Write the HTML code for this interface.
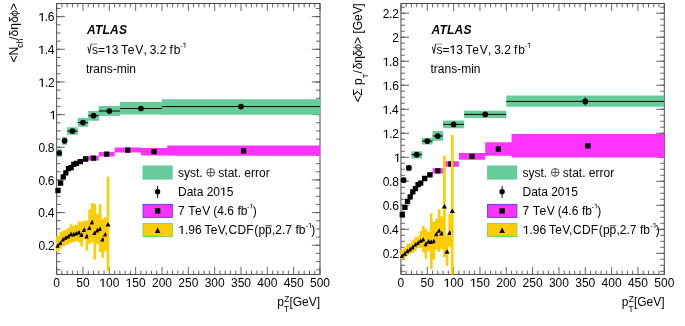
<!DOCTYPE html>
<html><head><meta charset="utf-8"><style>
html,body{margin:0;padding:0;background:#fff;width:685px;height:326px;overflow:hidden}
svg{display:block;will-change:transform}
text{font-family:"Liberation Sans", sans-serif;font-size:12px;fill:#000}
</style></head><body>
<svg width="685" height="326" viewBox="0 0 685 326">
<rect width="685" height="326" fill="#fff"/>
<line x1="56.65" y1="274.45" x2="56.65" y2="266.95" stroke="#555" stroke-width="0.9"/>
<line x1="56.65" y1="3.5" x2="56.65" y2="11" stroke="#555" stroke-width="0.9"/>
<line x1="61.92" y1="274.45" x2="61.92" y2="270.65" stroke="#555" stroke-width="0.9"/>
<line x1="61.92" y1="3.5" x2="61.92" y2="7.3" stroke="#555" stroke-width="0.9"/>
<line x1="67.18" y1="274.45" x2="67.18" y2="270.65" stroke="#555" stroke-width="0.9"/>
<line x1="67.18" y1="3.5" x2="67.18" y2="7.3" stroke="#555" stroke-width="0.9"/>
<line x1="72.45" y1="274.45" x2="72.45" y2="270.65" stroke="#555" stroke-width="0.9"/>
<line x1="72.45" y1="3.5" x2="72.45" y2="7.3" stroke="#555" stroke-width="0.9"/>
<line x1="77.72" y1="274.45" x2="77.72" y2="270.65" stroke="#555" stroke-width="0.9"/>
<line x1="77.72" y1="3.5" x2="77.72" y2="7.3" stroke="#555" stroke-width="0.9"/>
<line x1="82.98" y1="274.45" x2="82.98" y2="266.95" stroke="#555" stroke-width="0.9"/>
<line x1="82.98" y1="3.5" x2="82.98" y2="11" stroke="#555" stroke-width="0.9"/>
<line x1="88.25" y1="274.45" x2="88.25" y2="270.65" stroke="#555" stroke-width="0.9"/>
<line x1="88.25" y1="3.5" x2="88.25" y2="7.3" stroke="#555" stroke-width="0.9"/>
<line x1="93.52" y1="274.45" x2="93.52" y2="270.65" stroke="#555" stroke-width="0.9"/>
<line x1="93.52" y1="3.5" x2="93.52" y2="7.3" stroke="#555" stroke-width="0.9"/>
<line x1="98.79" y1="274.45" x2="98.79" y2="270.65" stroke="#555" stroke-width="0.9"/>
<line x1="98.79" y1="3.5" x2="98.79" y2="7.3" stroke="#555" stroke-width="0.9"/>
<line x1="104.05" y1="274.45" x2="104.05" y2="270.65" stroke="#555" stroke-width="0.9"/>
<line x1="104.05" y1="3.5" x2="104.05" y2="7.3" stroke="#555" stroke-width="0.9"/>
<line x1="109.32" y1="274.45" x2="109.32" y2="266.95" stroke="#555" stroke-width="0.9"/>
<line x1="109.32" y1="3.5" x2="109.32" y2="11" stroke="#555" stroke-width="0.9"/>
<line x1="114.59" y1="274.45" x2="114.59" y2="270.65" stroke="#555" stroke-width="0.9"/>
<line x1="114.59" y1="3.5" x2="114.59" y2="7.3" stroke="#555" stroke-width="0.9"/>
<line x1="119.85" y1="274.45" x2="119.85" y2="270.65" stroke="#555" stroke-width="0.9"/>
<line x1="119.85" y1="3.5" x2="119.85" y2="7.3" stroke="#555" stroke-width="0.9"/>
<line x1="125.12" y1="274.45" x2="125.12" y2="270.65" stroke="#555" stroke-width="0.9"/>
<line x1="125.12" y1="3.5" x2="125.12" y2="7.3" stroke="#555" stroke-width="0.9"/>
<line x1="130.39" y1="274.45" x2="130.39" y2="270.65" stroke="#555" stroke-width="0.9"/>
<line x1="130.39" y1="3.5" x2="130.39" y2="7.3" stroke="#555" stroke-width="0.9"/>
<line x1="135.66" y1="274.45" x2="135.66" y2="266.95" stroke="#555" stroke-width="0.9"/>
<line x1="135.66" y1="3.5" x2="135.66" y2="11" stroke="#555" stroke-width="0.9"/>
<line x1="140.92" y1="274.45" x2="140.92" y2="270.65" stroke="#555" stroke-width="0.9"/>
<line x1="140.92" y1="3.5" x2="140.92" y2="7.3" stroke="#555" stroke-width="0.9"/>
<line x1="146.19" y1="274.45" x2="146.19" y2="270.65" stroke="#555" stroke-width="0.9"/>
<line x1="146.19" y1="3.5" x2="146.19" y2="7.3" stroke="#555" stroke-width="0.9"/>
<line x1="151.46" y1="274.45" x2="151.46" y2="270.65" stroke="#555" stroke-width="0.9"/>
<line x1="151.46" y1="3.5" x2="151.46" y2="7.3" stroke="#555" stroke-width="0.9"/>
<line x1="156.72" y1="274.45" x2="156.72" y2="270.65" stroke="#555" stroke-width="0.9"/>
<line x1="156.72" y1="3.5" x2="156.72" y2="7.3" stroke="#555" stroke-width="0.9"/>
<line x1="161.99" y1="274.45" x2="161.99" y2="266.95" stroke="#555" stroke-width="0.9"/>
<line x1="161.99" y1="3.5" x2="161.99" y2="11" stroke="#555" stroke-width="0.9"/>
<line x1="167.26" y1="274.45" x2="167.26" y2="270.65" stroke="#555" stroke-width="0.9"/>
<line x1="167.26" y1="3.5" x2="167.26" y2="7.3" stroke="#555" stroke-width="0.9"/>
<line x1="172.52" y1="274.45" x2="172.52" y2="270.65" stroke="#555" stroke-width="0.9"/>
<line x1="172.52" y1="3.5" x2="172.52" y2="7.3" stroke="#555" stroke-width="0.9"/>
<line x1="177.79" y1="274.45" x2="177.79" y2="270.65" stroke="#555" stroke-width="0.9"/>
<line x1="177.79" y1="3.5" x2="177.79" y2="7.3" stroke="#555" stroke-width="0.9"/>
<line x1="183.06" y1="274.45" x2="183.06" y2="270.65" stroke="#555" stroke-width="0.9"/>
<line x1="183.06" y1="3.5" x2="183.06" y2="7.3" stroke="#555" stroke-width="0.9"/>
<line x1="188.32" y1="274.45" x2="188.32" y2="266.95" stroke="#555" stroke-width="0.9"/>
<line x1="188.32" y1="3.5" x2="188.32" y2="11" stroke="#555" stroke-width="0.9"/>
<line x1="193.59" y1="274.45" x2="193.59" y2="270.65" stroke="#555" stroke-width="0.9"/>
<line x1="193.59" y1="3.5" x2="193.59" y2="7.3" stroke="#555" stroke-width="0.9"/>
<line x1="198.86" y1="274.45" x2="198.86" y2="270.65" stroke="#555" stroke-width="0.9"/>
<line x1="198.86" y1="3.5" x2="198.86" y2="7.3" stroke="#555" stroke-width="0.9"/>
<line x1="204.13" y1="274.45" x2="204.13" y2="270.65" stroke="#555" stroke-width="0.9"/>
<line x1="204.13" y1="3.5" x2="204.13" y2="7.3" stroke="#555" stroke-width="0.9"/>
<line x1="209.39" y1="274.45" x2="209.39" y2="270.65" stroke="#555" stroke-width="0.9"/>
<line x1="209.39" y1="3.5" x2="209.39" y2="7.3" stroke="#555" stroke-width="0.9"/>
<line x1="214.66" y1="274.45" x2="214.66" y2="266.95" stroke="#555" stroke-width="0.9"/>
<line x1="214.66" y1="3.5" x2="214.66" y2="11" stroke="#555" stroke-width="0.9"/>
<line x1="219.93" y1="274.45" x2="219.93" y2="270.65" stroke="#555" stroke-width="0.9"/>
<line x1="219.93" y1="3.5" x2="219.93" y2="7.3" stroke="#555" stroke-width="0.9"/>
<line x1="225.19" y1="274.45" x2="225.19" y2="270.65" stroke="#555" stroke-width="0.9"/>
<line x1="225.19" y1="3.5" x2="225.19" y2="7.3" stroke="#555" stroke-width="0.9"/>
<line x1="230.46" y1="274.45" x2="230.46" y2="270.65" stroke="#555" stroke-width="0.9"/>
<line x1="230.46" y1="3.5" x2="230.46" y2="7.3" stroke="#555" stroke-width="0.9"/>
<line x1="235.73" y1="274.45" x2="235.73" y2="270.65" stroke="#555" stroke-width="0.9"/>
<line x1="235.73" y1="3.5" x2="235.73" y2="7.3" stroke="#555" stroke-width="0.9"/>
<line x1="240.99" y1="274.45" x2="240.99" y2="266.95" stroke="#555" stroke-width="0.9"/>
<line x1="240.99" y1="3.5" x2="240.99" y2="11" stroke="#555" stroke-width="0.9"/>
<line x1="246.26" y1="274.45" x2="246.26" y2="270.65" stroke="#555" stroke-width="0.9"/>
<line x1="246.26" y1="3.5" x2="246.26" y2="7.3" stroke="#555" stroke-width="0.9"/>
<line x1="251.53" y1="274.45" x2="251.53" y2="270.65" stroke="#555" stroke-width="0.9"/>
<line x1="251.53" y1="3.5" x2="251.53" y2="7.3" stroke="#555" stroke-width="0.9"/>
<line x1="256.8" y1="274.45" x2="256.8" y2="270.65" stroke="#555" stroke-width="0.9"/>
<line x1="256.8" y1="3.5" x2="256.8" y2="7.3" stroke="#555" stroke-width="0.9"/>
<line x1="262.06" y1="274.45" x2="262.06" y2="270.65" stroke="#555" stroke-width="0.9"/>
<line x1="262.06" y1="3.5" x2="262.06" y2="7.3" stroke="#555" stroke-width="0.9"/>
<line x1="267.33" y1="274.45" x2="267.33" y2="266.95" stroke="#555" stroke-width="0.9"/>
<line x1="267.33" y1="3.5" x2="267.33" y2="11" stroke="#555" stroke-width="0.9"/>
<line x1="272.6" y1="274.45" x2="272.6" y2="270.65" stroke="#555" stroke-width="0.9"/>
<line x1="272.6" y1="3.5" x2="272.6" y2="7.3" stroke="#555" stroke-width="0.9"/>
<line x1="277.86" y1="274.45" x2="277.86" y2="270.65" stroke="#555" stroke-width="0.9"/>
<line x1="277.86" y1="3.5" x2="277.86" y2="7.3" stroke="#555" stroke-width="0.9"/>
<line x1="283.13" y1="274.45" x2="283.13" y2="270.65" stroke="#555" stroke-width="0.9"/>
<line x1="283.13" y1="3.5" x2="283.13" y2="7.3" stroke="#555" stroke-width="0.9"/>
<line x1="288.4" y1="274.45" x2="288.4" y2="270.65" stroke="#555" stroke-width="0.9"/>
<line x1="288.4" y1="3.5" x2="288.4" y2="7.3" stroke="#555" stroke-width="0.9"/>
<line x1="293.66" y1="274.45" x2="293.66" y2="266.95" stroke="#555" stroke-width="0.9"/>
<line x1="293.66" y1="3.5" x2="293.66" y2="11" stroke="#555" stroke-width="0.9"/>
<line x1="298.93" y1="274.45" x2="298.93" y2="270.65" stroke="#555" stroke-width="0.9"/>
<line x1="298.93" y1="3.5" x2="298.93" y2="7.3" stroke="#555" stroke-width="0.9"/>
<line x1="304.2" y1="274.45" x2="304.2" y2="270.65" stroke="#555" stroke-width="0.9"/>
<line x1="304.2" y1="3.5" x2="304.2" y2="7.3" stroke="#555" stroke-width="0.9"/>
<line x1="309.47" y1="274.45" x2="309.47" y2="270.65" stroke="#555" stroke-width="0.9"/>
<line x1="309.47" y1="3.5" x2="309.47" y2="7.3" stroke="#555" stroke-width="0.9"/>
<line x1="314.73" y1="274.45" x2="314.73" y2="270.65" stroke="#555" stroke-width="0.9"/>
<line x1="314.73" y1="3.5" x2="314.73" y2="7.3" stroke="#555" stroke-width="0.9"/>
<line x1="320" y1="274.45" x2="320" y2="266.95" stroke="#555" stroke-width="0.9"/>
<line x1="320" y1="3.5" x2="320" y2="11" stroke="#555" stroke-width="0.9"/>
<line x1="56.65" y1="269.75" x2="60.65" y2="269.75" stroke="#555" stroke-width="0.9"/>
<line x1="320" y1="269.75" x2="316" y2="269.75" stroke="#555" stroke-width="0.9"/>
<line x1="56.65" y1="261.59" x2="60.65" y2="261.59" stroke="#555" stroke-width="0.9"/>
<line x1="320" y1="261.59" x2="316" y2="261.59" stroke="#555" stroke-width="0.9"/>
<line x1="56.65" y1="253.43" x2="60.65" y2="253.43" stroke="#555" stroke-width="0.9"/>
<line x1="320" y1="253.43" x2="316" y2="253.43" stroke="#555" stroke-width="0.9"/>
<line x1="56.65" y1="245.26" x2="60.65" y2="245.26" stroke="#555" stroke-width="0.9"/>
<line x1="320" y1="245.26" x2="316" y2="245.26" stroke="#555" stroke-width="0.9"/>
<line x1="56.65" y1="237.09" x2="60.65" y2="237.09" stroke="#555" stroke-width="0.9"/>
<line x1="320" y1="237.09" x2="316" y2="237.09" stroke="#555" stroke-width="0.9"/>
<line x1="56.65" y1="228.93" x2="60.65" y2="228.93" stroke="#555" stroke-width="0.9"/>
<line x1="320" y1="228.93" x2="316" y2="228.93" stroke="#555" stroke-width="0.9"/>
<line x1="56.65" y1="220.76" x2="60.65" y2="220.76" stroke="#555" stroke-width="0.9"/>
<line x1="320" y1="220.76" x2="316" y2="220.76" stroke="#555" stroke-width="0.9"/>
<line x1="56.65" y1="212.6" x2="60.65" y2="212.6" stroke="#555" stroke-width="0.9"/>
<line x1="320" y1="212.6" x2="316" y2="212.6" stroke="#555" stroke-width="0.9"/>
<line x1="56.65" y1="204.44" x2="60.65" y2="204.44" stroke="#555" stroke-width="0.9"/>
<line x1="320" y1="204.44" x2="316" y2="204.44" stroke="#555" stroke-width="0.9"/>
<line x1="56.65" y1="196.27" x2="60.65" y2="196.27" stroke="#555" stroke-width="0.9"/>
<line x1="320" y1="196.27" x2="316" y2="196.27" stroke="#555" stroke-width="0.9"/>
<line x1="56.65" y1="188.1" x2="60.65" y2="188.1" stroke="#555" stroke-width="0.9"/>
<line x1="320" y1="188.1" x2="316" y2="188.1" stroke="#555" stroke-width="0.9"/>
<line x1="56.65" y1="179.94" x2="60.65" y2="179.94" stroke="#555" stroke-width="0.9"/>
<line x1="320" y1="179.94" x2="316" y2="179.94" stroke="#555" stroke-width="0.9"/>
<line x1="56.65" y1="171.77" x2="60.65" y2="171.77" stroke="#555" stroke-width="0.9"/>
<line x1="320" y1="171.77" x2="316" y2="171.77" stroke="#555" stroke-width="0.9"/>
<line x1="56.65" y1="163.61" x2="60.65" y2="163.61" stroke="#555" stroke-width="0.9"/>
<line x1="320" y1="163.61" x2="316" y2="163.61" stroke="#555" stroke-width="0.9"/>
<line x1="56.65" y1="155.44" x2="60.65" y2="155.44" stroke="#555" stroke-width="0.9"/>
<line x1="320" y1="155.44" x2="316" y2="155.44" stroke="#555" stroke-width="0.9"/>
<line x1="56.65" y1="147.28" x2="60.65" y2="147.28" stroke="#555" stroke-width="0.9"/>
<line x1="320" y1="147.28" x2="316" y2="147.28" stroke="#555" stroke-width="0.9"/>
<line x1="56.65" y1="139.12" x2="60.65" y2="139.12" stroke="#555" stroke-width="0.9"/>
<line x1="320" y1="139.12" x2="316" y2="139.12" stroke="#555" stroke-width="0.9"/>
<line x1="56.65" y1="130.95" x2="60.65" y2="130.95" stroke="#555" stroke-width="0.9"/>
<line x1="320" y1="130.95" x2="316" y2="130.95" stroke="#555" stroke-width="0.9"/>
<line x1="56.65" y1="122.78" x2="60.65" y2="122.78" stroke="#555" stroke-width="0.9"/>
<line x1="320" y1="122.78" x2="316" y2="122.78" stroke="#555" stroke-width="0.9"/>
<line x1="56.65" y1="114.62" x2="60.65" y2="114.62" stroke="#555" stroke-width="0.9"/>
<line x1="320" y1="114.62" x2="316" y2="114.62" stroke="#555" stroke-width="0.9"/>
<line x1="56.65" y1="106.45" x2="60.65" y2="106.45" stroke="#555" stroke-width="0.9"/>
<line x1="320" y1="106.45" x2="316" y2="106.45" stroke="#555" stroke-width="0.9"/>
<line x1="56.65" y1="98.29" x2="60.65" y2="98.29" stroke="#555" stroke-width="0.9"/>
<line x1="320" y1="98.29" x2="316" y2="98.29" stroke="#555" stroke-width="0.9"/>
<line x1="56.65" y1="90.12" x2="60.65" y2="90.12" stroke="#555" stroke-width="0.9"/>
<line x1="320" y1="90.12" x2="316" y2="90.12" stroke="#555" stroke-width="0.9"/>
<line x1="56.65" y1="81.96" x2="60.65" y2="81.96" stroke="#555" stroke-width="0.9"/>
<line x1="320" y1="81.96" x2="316" y2="81.96" stroke="#555" stroke-width="0.9"/>
<line x1="56.65" y1="73.79" x2="60.65" y2="73.79" stroke="#555" stroke-width="0.9"/>
<line x1="320" y1="73.79" x2="316" y2="73.79" stroke="#555" stroke-width="0.9"/>
<line x1="56.65" y1="65.63" x2="60.65" y2="65.63" stroke="#555" stroke-width="0.9"/>
<line x1="320" y1="65.63" x2="316" y2="65.63" stroke="#555" stroke-width="0.9"/>
<line x1="56.65" y1="57.46" x2="60.65" y2="57.46" stroke="#555" stroke-width="0.9"/>
<line x1="320" y1="57.46" x2="316" y2="57.46" stroke="#555" stroke-width="0.9"/>
<line x1="56.65" y1="49.3" x2="60.65" y2="49.3" stroke="#555" stroke-width="0.9"/>
<line x1="320" y1="49.3" x2="316" y2="49.3" stroke="#555" stroke-width="0.9"/>
<line x1="56.65" y1="41.13" x2="60.65" y2="41.13" stroke="#555" stroke-width="0.9"/>
<line x1="320" y1="41.13" x2="316" y2="41.13" stroke="#555" stroke-width="0.9"/>
<line x1="56.65" y1="32.97" x2="60.65" y2="32.97" stroke="#555" stroke-width="0.9"/>
<line x1="320" y1="32.97" x2="316" y2="32.97" stroke="#555" stroke-width="0.9"/>
<line x1="56.65" y1="24.8" x2="60.65" y2="24.8" stroke="#555" stroke-width="0.9"/>
<line x1="320" y1="24.8" x2="316" y2="24.8" stroke="#555" stroke-width="0.9"/>
<line x1="56.65" y1="16.64" x2="60.65" y2="16.64" stroke="#555" stroke-width="0.9"/>
<line x1="320" y1="16.64" x2="316" y2="16.64" stroke="#555" stroke-width="0.9"/>
<line x1="56.65" y1="8.47" x2="60.65" y2="8.47" stroke="#555" stroke-width="0.9"/>
<line x1="320" y1="8.47" x2="316" y2="8.47" stroke="#555" stroke-width="0.9"/>
<line x1="56.65" y1="245.26" x2="64.85" y2="245.26" stroke="#555" stroke-width="0.9"/>
<line x1="320" y1="245.26" x2="311.8" y2="245.26" stroke="#555" stroke-width="0.9"/>
<line x1="56.65" y1="212.6" x2="64.85" y2="212.6" stroke="#555" stroke-width="0.9"/>
<line x1="320" y1="212.6" x2="311.8" y2="212.6" stroke="#555" stroke-width="0.9"/>
<line x1="56.65" y1="179.94" x2="64.85" y2="179.94" stroke="#555" stroke-width="0.9"/>
<line x1="320" y1="179.94" x2="311.8" y2="179.94" stroke="#555" stroke-width="0.9"/>
<line x1="56.65" y1="147.28" x2="64.85" y2="147.28" stroke="#555" stroke-width="0.9"/>
<line x1="320" y1="147.28" x2="311.8" y2="147.28" stroke="#555" stroke-width="0.9"/>
<line x1="56.65" y1="114.62" x2="64.85" y2="114.62" stroke="#555" stroke-width="0.9"/>
<line x1="320" y1="114.62" x2="311.8" y2="114.62" stroke="#555" stroke-width="0.9"/>
<line x1="56.65" y1="81.96" x2="64.85" y2="81.96" stroke="#555" stroke-width="0.9"/>
<line x1="320" y1="81.96" x2="311.8" y2="81.96" stroke="#555" stroke-width="0.9"/>
<line x1="56.65" y1="49.3" x2="64.85" y2="49.3" stroke="#555" stroke-width="0.9"/>
<line x1="320" y1="49.3" x2="311.8" y2="49.3" stroke="#555" stroke-width="0.9"/>
<line x1="56.65" y1="16.64" x2="64.85" y2="16.64" stroke="#555" stroke-width="0.9"/>
<line x1="320" y1="16.64" x2="311.8" y2="16.64" stroke="#555" stroke-width="0.9"/>
<rect x="56.65" y="3.5" width="263.35" height="270.95" fill="none" stroke="#4a4a4a" stroke-width="1"/>
<text x="38.52" y="249.96" letter-spacing="-0.3">0.2</text>
<text x="38.27" y="217.3" letter-spacing="-0.3">0.4</text>
<text x="38.45" y="184.64" letter-spacing="-0.3">0.6</text>
<text x="38.44" y="151.98" letter-spacing="-0.3">0.8</text>
<text x="49.66" y="119.32">&#8199;</text>
<text x="38.52" y="86.66" letter-spacing="-0.3">&#8199;.2</text>
<text x="38.27" y="54" letter-spacing="-0.3">&#8199;.4</text>
<text x="38.45" y="21.34" letter-spacing="-0.3">&#8199;.6</text>
<text x="56.65" y="286.9" text-anchor="middle">0</text>
<text x="82.98" y="286.9" text-anchor="middle">50</text>
<text x="109.32" y="286.9" text-anchor="middle">&#8199;00</text>
<text x="135.66" y="286.9" text-anchor="middle">&#8199;50</text>
<text x="161.99" y="286.9" text-anchor="middle">200</text>
<text x="188.32" y="286.9" text-anchor="middle">250</text>
<text x="214.66" y="286.9" text-anchor="middle">300</text>
<text x="240.99" y="286.9" text-anchor="middle">350</text>
<text x="267.33" y="286.9" text-anchor="middle">400</text>
<text x="293.66" y="286.9" text-anchor="middle">450</text>
<text x="320" y="286.9" text-anchor="middle">500</text>
<line x1="400.95" y1="274.45" x2="400.95" y2="266.95" stroke="#555" stroke-width="0.9"/>
<line x1="400.95" y1="3.5" x2="400.95" y2="11" stroke="#555" stroke-width="0.9"/>
<line x1="406.22" y1="274.45" x2="406.22" y2="270.65" stroke="#555" stroke-width="0.9"/>
<line x1="406.22" y1="3.5" x2="406.22" y2="7.3" stroke="#555" stroke-width="0.9"/>
<line x1="411.48" y1="274.45" x2="411.48" y2="270.65" stroke="#555" stroke-width="0.9"/>
<line x1="411.48" y1="3.5" x2="411.48" y2="7.3" stroke="#555" stroke-width="0.9"/>
<line x1="416.75" y1="274.45" x2="416.75" y2="270.65" stroke="#555" stroke-width="0.9"/>
<line x1="416.75" y1="3.5" x2="416.75" y2="7.3" stroke="#555" stroke-width="0.9"/>
<line x1="422.02" y1="274.45" x2="422.02" y2="270.65" stroke="#555" stroke-width="0.9"/>
<line x1="422.02" y1="3.5" x2="422.02" y2="7.3" stroke="#555" stroke-width="0.9"/>
<line x1="427.28" y1="274.45" x2="427.28" y2="266.95" stroke="#555" stroke-width="0.9"/>
<line x1="427.28" y1="3.5" x2="427.28" y2="11" stroke="#555" stroke-width="0.9"/>
<line x1="432.55" y1="274.45" x2="432.55" y2="270.65" stroke="#555" stroke-width="0.9"/>
<line x1="432.55" y1="3.5" x2="432.55" y2="7.3" stroke="#555" stroke-width="0.9"/>
<line x1="437.82" y1="274.45" x2="437.82" y2="270.65" stroke="#555" stroke-width="0.9"/>
<line x1="437.82" y1="3.5" x2="437.82" y2="7.3" stroke="#555" stroke-width="0.9"/>
<line x1="443.09" y1="274.45" x2="443.09" y2="270.65" stroke="#555" stroke-width="0.9"/>
<line x1="443.09" y1="3.5" x2="443.09" y2="7.3" stroke="#555" stroke-width="0.9"/>
<line x1="448.35" y1="274.45" x2="448.35" y2="270.65" stroke="#555" stroke-width="0.9"/>
<line x1="448.35" y1="3.5" x2="448.35" y2="7.3" stroke="#555" stroke-width="0.9"/>
<line x1="453.62" y1="274.45" x2="453.62" y2="266.95" stroke="#555" stroke-width="0.9"/>
<line x1="453.62" y1="3.5" x2="453.62" y2="11" stroke="#555" stroke-width="0.9"/>
<line x1="458.89" y1="274.45" x2="458.89" y2="270.65" stroke="#555" stroke-width="0.9"/>
<line x1="458.89" y1="3.5" x2="458.89" y2="7.3" stroke="#555" stroke-width="0.9"/>
<line x1="464.15" y1="274.45" x2="464.15" y2="270.65" stroke="#555" stroke-width="0.9"/>
<line x1="464.15" y1="3.5" x2="464.15" y2="7.3" stroke="#555" stroke-width="0.9"/>
<line x1="469.42" y1="274.45" x2="469.42" y2="270.65" stroke="#555" stroke-width="0.9"/>
<line x1="469.42" y1="3.5" x2="469.42" y2="7.3" stroke="#555" stroke-width="0.9"/>
<line x1="474.69" y1="274.45" x2="474.69" y2="270.65" stroke="#555" stroke-width="0.9"/>
<line x1="474.69" y1="3.5" x2="474.69" y2="7.3" stroke="#555" stroke-width="0.9"/>
<line x1="479.95" y1="274.45" x2="479.95" y2="266.95" stroke="#555" stroke-width="0.9"/>
<line x1="479.95" y1="3.5" x2="479.95" y2="11" stroke="#555" stroke-width="0.9"/>
<line x1="485.22" y1="274.45" x2="485.22" y2="270.65" stroke="#555" stroke-width="0.9"/>
<line x1="485.22" y1="3.5" x2="485.22" y2="7.3" stroke="#555" stroke-width="0.9"/>
<line x1="490.49" y1="274.45" x2="490.49" y2="270.65" stroke="#555" stroke-width="0.9"/>
<line x1="490.49" y1="3.5" x2="490.49" y2="7.3" stroke="#555" stroke-width="0.9"/>
<line x1="495.76" y1="274.45" x2="495.76" y2="270.65" stroke="#555" stroke-width="0.9"/>
<line x1="495.76" y1="3.5" x2="495.76" y2="7.3" stroke="#555" stroke-width="0.9"/>
<line x1="501.02" y1="274.45" x2="501.02" y2="270.65" stroke="#555" stroke-width="0.9"/>
<line x1="501.02" y1="3.5" x2="501.02" y2="7.3" stroke="#555" stroke-width="0.9"/>
<line x1="506.29" y1="274.45" x2="506.29" y2="266.95" stroke="#555" stroke-width="0.9"/>
<line x1="506.29" y1="3.5" x2="506.29" y2="11" stroke="#555" stroke-width="0.9"/>
<line x1="511.56" y1="274.45" x2="511.56" y2="270.65" stroke="#555" stroke-width="0.9"/>
<line x1="511.56" y1="3.5" x2="511.56" y2="7.3" stroke="#555" stroke-width="0.9"/>
<line x1="516.82" y1="274.45" x2="516.82" y2="270.65" stroke="#555" stroke-width="0.9"/>
<line x1="516.82" y1="3.5" x2="516.82" y2="7.3" stroke="#555" stroke-width="0.9"/>
<line x1="522.09" y1="274.45" x2="522.09" y2="270.65" stroke="#555" stroke-width="0.9"/>
<line x1="522.09" y1="3.5" x2="522.09" y2="7.3" stroke="#555" stroke-width="0.9"/>
<line x1="527.36" y1="274.45" x2="527.36" y2="270.65" stroke="#555" stroke-width="0.9"/>
<line x1="527.36" y1="3.5" x2="527.36" y2="7.3" stroke="#555" stroke-width="0.9"/>
<line x1="532.62" y1="274.45" x2="532.62" y2="266.95" stroke="#555" stroke-width="0.9"/>
<line x1="532.62" y1="3.5" x2="532.62" y2="11" stroke="#555" stroke-width="0.9"/>
<line x1="537.89" y1="274.45" x2="537.89" y2="270.65" stroke="#555" stroke-width="0.9"/>
<line x1="537.89" y1="3.5" x2="537.89" y2="7.3" stroke="#555" stroke-width="0.9"/>
<line x1="543.16" y1="274.45" x2="543.16" y2="270.65" stroke="#555" stroke-width="0.9"/>
<line x1="543.16" y1="3.5" x2="543.16" y2="7.3" stroke="#555" stroke-width="0.9"/>
<line x1="548.43" y1="274.45" x2="548.43" y2="270.65" stroke="#555" stroke-width="0.9"/>
<line x1="548.43" y1="3.5" x2="548.43" y2="7.3" stroke="#555" stroke-width="0.9"/>
<line x1="553.69" y1="274.45" x2="553.69" y2="270.65" stroke="#555" stroke-width="0.9"/>
<line x1="553.69" y1="3.5" x2="553.69" y2="7.3" stroke="#555" stroke-width="0.9"/>
<line x1="558.96" y1="274.45" x2="558.96" y2="266.95" stroke="#555" stroke-width="0.9"/>
<line x1="558.96" y1="3.5" x2="558.96" y2="11" stroke="#555" stroke-width="0.9"/>
<line x1="564.23" y1="274.45" x2="564.23" y2="270.65" stroke="#555" stroke-width="0.9"/>
<line x1="564.23" y1="3.5" x2="564.23" y2="7.3" stroke="#555" stroke-width="0.9"/>
<line x1="569.49" y1="274.45" x2="569.49" y2="270.65" stroke="#555" stroke-width="0.9"/>
<line x1="569.49" y1="3.5" x2="569.49" y2="7.3" stroke="#555" stroke-width="0.9"/>
<line x1="574.76" y1="274.45" x2="574.76" y2="270.65" stroke="#555" stroke-width="0.9"/>
<line x1="574.76" y1="3.5" x2="574.76" y2="7.3" stroke="#555" stroke-width="0.9"/>
<line x1="580.03" y1="274.45" x2="580.03" y2="270.65" stroke="#555" stroke-width="0.9"/>
<line x1="580.03" y1="3.5" x2="580.03" y2="7.3" stroke="#555" stroke-width="0.9"/>
<line x1="585.29" y1="274.45" x2="585.29" y2="266.95" stroke="#555" stroke-width="0.9"/>
<line x1="585.29" y1="3.5" x2="585.29" y2="11" stroke="#555" stroke-width="0.9"/>
<line x1="590.56" y1="274.45" x2="590.56" y2="270.65" stroke="#555" stroke-width="0.9"/>
<line x1="590.56" y1="3.5" x2="590.56" y2="7.3" stroke="#555" stroke-width="0.9"/>
<line x1="595.83" y1="274.45" x2="595.83" y2="270.65" stroke="#555" stroke-width="0.9"/>
<line x1="595.83" y1="3.5" x2="595.83" y2="7.3" stroke="#555" stroke-width="0.9"/>
<line x1="601.1" y1="274.45" x2="601.1" y2="270.65" stroke="#555" stroke-width="0.9"/>
<line x1="601.1" y1="3.5" x2="601.1" y2="7.3" stroke="#555" stroke-width="0.9"/>
<line x1="606.36" y1="274.45" x2="606.36" y2="270.65" stroke="#555" stroke-width="0.9"/>
<line x1="606.36" y1="3.5" x2="606.36" y2="7.3" stroke="#555" stroke-width="0.9"/>
<line x1="611.63" y1="274.45" x2="611.63" y2="266.95" stroke="#555" stroke-width="0.9"/>
<line x1="611.63" y1="3.5" x2="611.63" y2="11" stroke="#555" stroke-width="0.9"/>
<line x1="616.9" y1="274.45" x2="616.9" y2="270.65" stroke="#555" stroke-width="0.9"/>
<line x1="616.9" y1="3.5" x2="616.9" y2="7.3" stroke="#555" stroke-width="0.9"/>
<line x1="622.16" y1="274.45" x2="622.16" y2="270.65" stroke="#555" stroke-width="0.9"/>
<line x1="622.16" y1="3.5" x2="622.16" y2="7.3" stroke="#555" stroke-width="0.9"/>
<line x1="627.43" y1="274.45" x2="627.43" y2="270.65" stroke="#555" stroke-width="0.9"/>
<line x1="627.43" y1="3.5" x2="627.43" y2="7.3" stroke="#555" stroke-width="0.9"/>
<line x1="632.7" y1="274.45" x2="632.7" y2="270.65" stroke="#555" stroke-width="0.9"/>
<line x1="632.7" y1="3.5" x2="632.7" y2="7.3" stroke="#555" stroke-width="0.9"/>
<line x1="637.96" y1="274.45" x2="637.96" y2="266.95" stroke="#555" stroke-width="0.9"/>
<line x1="637.96" y1="3.5" x2="637.96" y2="11" stroke="#555" stroke-width="0.9"/>
<line x1="643.23" y1="274.45" x2="643.23" y2="270.65" stroke="#555" stroke-width="0.9"/>
<line x1="643.23" y1="3.5" x2="643.23" y2="7.3" stroke="#555" stroke-width="0.9"/>
<line x1="648.5" y1="274.45" x2="648.5" y2="270.65" stroke="#555" stroke-width="0.9"/>
<line x1="648.5" y1="3.5" x2="648.5" y2="7.3" stroke="#555" stroke-width="0.9"/>
<line x1="653.77" y1="274.45" x2="653.77" y2="270.65" stroke="#555" stroke-width="0.9"/>
<line x1="653.77" y1="3.5" x2="653.77" y2="7.3" stroke="#555" stroke-width="0.9"/>
<line x1="659.03" y1="274.45" x2="659.03" y2="270.65" stroke="#555" stroke-width="0.9"/>
<line x1="659.03" y1="3.5" x2="659.03" y2="7.3" stroke="#555" stroke-width="0.9"/>
<line x1="664.3" y1="274.45" x2="664.3" y2="266.95" stroke="#555" stroke-width="0.9"/>
<line x1="664.3" y1="3.5" x2="664.3" y2="11" stroke="#555" stroke-width="0.9"/>
<line x1="400.95" y1="271.31" x2="404.95" y2="271.31" stroke="#555" stroke-width="0.9"/>
<line x1="664.3" y1="271.31" x2="660.3" y2="271.31" stroke="#555" stroke-width="0.9"/>
<line x1="400.95" y1="265.31" x2="404.95" y2="265.31" stroke="#555" stroke-width="0.9"/>
<line x1="664.3" y1="265.31" x2="660.3" y2="265.31" stroke="#555" stroke-width="0.9"/>
<line x1="400.95" y1="259.3" x2="404.95" y2="259.3" stroke="#555" stroke-width="0.9"/>
<line x1="664.3" y1="259.3" x2="660.3" y2="259.3" stroke="#555" stroke-width="0.9"/>
<line x1="400.95" y1="253.3" x2="404.95" y2="253.3" stroke="#555" stroke-width="0.9"/>
<line x1="664.3" y1="253.3" x2="660.3" y2="253.3" stroke="#555" stroke-width="0.9"/>
<line x1="400.95" y1="247.3" x2="404.95" y2="247.3" stroke="#555" stroke-width="0.9"/>
<line x1="664.3" y1="247.3" x2="660.3" y2="247.3" stroke="#555" stroke-width="0.9"/>
<line x1="400.95" y1="241.3" x2="404.95" y2="241.3" stroke="#555" stroke-width="0.9"/>
<line x1="664.3" y1="241.3" x2="660.3" y2="241.3" stroke="#555" stroke-width="0.9"/>
<line x1="400.95" y1="235.29" x2="404.95" y2="235.29" stroke="#555" stroke-width="0.9"/>
<line x1="664.3" y1="235.29" x2="660.3" y2="235.29" stroke="#555" stroke-width="0.9"/>
<line x1="400.95" y1="229.29" x2="404.95" y2="229.29" stroke="#555" stroke-width="0.9"/>
<line x1="664.3" y1="229.29" x2="660.3" y2="229.29" stroke="#555" stroke-width="0.9"/>
<line x1="400.95" y1="223.29" x2="404.95" y2="223.29" stroke="#555" stroke-width="0.9"/>
<line x1="664.3" y1="223.29" x2="660.3" y2="223.29" stroke="#555" stroke-width="0.9"/>
<line x1="400.95" y1="217.29" x2="404.95" y2="217.29" stroke="#555" stroke-width="0.9"/>
<line x1="664.3" y1="217.29" x2="660.3" y2="217.29" stroke="#555" stroke-width="0.9"/>
<line x1="400.95" y1="211.28" x2="404.95" y2="211.28" stroke="#555" stroke-width="0.9"/>
<line x1="664.3" y1="211.28" x2="660.3" y2="211.28" stroke="#555" stroke-width="0.9"/>
<line x1="400.95" y1="205.28" x2="404.95" y2="205.28" stroke="#555" stroke-width="0.9"/>
<line x1="664.3" y1="205.28" x2="660.3" y2="205.28" stroke="#555" stroke-width="0.9"/>
<line x1="400.95" y1="199.28" x2="404.95" y2="199.28" stroke="#555" stroke-width="0.9"/>
<line x1="664.3" y1="199.28" x2="660.3" y2="199.28" stroke="#555" stroke-width="0.9"/>
<line x1="400.95" y1="193.28" x2="404.95" y2="193.28" stroke="#555" stroke-width="0.9"/>
<line x1="664.3" y1="193.28" x2="660.3" y2="193.28" stroke="#555" stroke-width="0.9"/>
<line x1="400.95" y1="187.27" x2="404.95" y2="187.27" stroke="#555" stroke-width="0.9"/>
<line x1="664.3" y1="187.27" x2="660.3" y2="187.27" stroke="#555" stroke-width="0.9"/>
<line x1="400.95" y1="181.27" x2="404.95" y2="181.27" stroke="#555" stroke-width="0.9"/>
<line x1="664.3" y1="181.27" x2="660.3" y2="181.27" stroke="#555" stroke-width="0.9"/>
<line x1="400.95" y1="175.27" x2="404.95" y2="175.27" stroke="#555" stroke-width="0.9"/>
<line x1="664.3" y1="175.27" x2="660.3" y2="175.27" stroke="#555" stroke-width="0.9"/>
<line x1="400.95" y1="169.27" x2="404.95" y2="169.27" stroke="#555" stroke-width="0.9"/>
<line x1="664.3" y1="169.27" x2="660.3" y2="169.27" stroke="#555" stroke-width="0.9"/>
<line x1="400.95" y1="163.26" x2="404.95" y2="163.26" stroke="#555" stroke-width="0.9"/>
<line x1="664.3" y1="163.26" x2="660.3" y2="163.26" stroke="#555" stroke-width="0.9"/>
<line x1="400.95" y1="157.26" x2="404.95" y2="157.26" stroke="#555" stroke-width="0.9"/>
<line x1="664.3" y1="157.26" x2="660.3" y2="157.26" stroke="#555" stroke-width="0.9"/>
<line x1="400.95" y1="151.26" x2="404.95" y2="151.26" stroke="#555" stroke-width="0.9"/>
<line x1="664.3" y1="151.26" x2="660.3" y2="151.26" stroke="#555" stroke-width="0.9"/>
<line x1="400.95" y1="145.25" x2="404.95" y2="145.25" stroke="#555" stroke-width="0.9"/>
<line x1="664.3" y1="145.25" x2="660.3" y2="145.25" stroke="#555" stroke-width="0.9"/>
<line x1="400.95" y1="139.25" x2="404.95" y2="139.25" stroke="#555" stroke-width="0.9"/>
<line x1="664.3" y1="139.25" x2="660.3" y2="139.25" stroke="#555" stroke-width="0.9"/>
<line x1="400.95" y1="133.25" x2="404.95" y2="133.25" stroke="#555" stroke-width="0.9"/>
<line x1="664.3" y1="133.25" x2="660.3" y2="133.25" stroke="#555" stroke-width="0.9"/>
<line x1="400.95" y1="127.25" x2="404.95" y2="127.25" stroke="#555" stroke-width="0.9"/>
<line x1="664.3" y1="127.25" x2="660.3" y2="127.25" stroke="#555" stroke-width="0.9"/>
<line x1="400.95" y1="121.25" x2="404.95" y2="121.25" stroke="#555" stroke-width="0.9"/>
<line x1="664.3" y1="121.25" x2="660.3" y2="121.25" stroke="#555" stroke-width="0.9"/>
<line x1="400.95" y1="115.24" x2="404.95" y2="115.24" stroke="#555" stroke-width="0.9"/>
<line x1="664.3" y1="115.24" x2="660.3" y2="115.24" stroke="#555" stroke-width="0.9"/>
<line x1="400.95" y1="109.24" x2="404.95" y2="109.24" stroke="#555" stroke-width="0.9"/>
<line x1="664.3" y1="109.24" x2="660.3" y2="109.24" stroke="#555" stroke-width="0.9"/>
<line x1="400.95" y1="103.24" x2="404.95" y2="103.24" stroke="#555" stroke-width="0.9"/>
<line x1="664.3" y1="103.24" x2="660.3" y2="103.24" stroke="#555" stroke-width="0.9"/>
<line x1="400.95" y1="97.24" x2="404.95" y2="97.24" stroke="#555" stroke-width="0.9"/>
<line x1="664.3" y1="97.24" x2="660.3" y2="97.24" stroke="#555" stroke-width="0.9"/>
<line x1="400.95" y1="91.23" x2="404.95" y2="91.23" stroke="#555" stroke-width="0.9"/>
<line x1="664.3" y1="91.23" x2="660.3" y2="91.23" stroke="#555" stroke-width="0.9"/>
<line x1="400.95" y1="85.23" x2="404.95" y2="85.23" stroke="#555" stroke-width="0.9"/>
<line x1="664.3" y1="85.23" x2="660.3" y2="85.23" stroke="#555" stroke-width="0.9"/>
<line x1="400.95" y1="79.23" x2="404.95" y2="79.23" stroke="#555" stroke-width="0.9"/>
<line x1="664.3" y1="79.23" x2="660.3" y2="79.23" stroke="#555" stroke-width="0.9"/>
<line x1="400.95" y1="73.23" x2="404.95" y2="73.23" stroke="#555" stroke-width="0.9"/>
<line x1="664.3" y1="73.23" x2="660.3" y2="73.23" stroke="#555" stroke-width="0.9"/>
<line x1="400.95" y1="67.22" x2="404.95" y2="67.22" stroke="#555" stroke-width="0.9"/>
<line x1="664.3" y1="67.22" x2="660.3" y2="67.22" stroke="#555" stroke-width="0.9"/>
<line x1="400.95" y1="61.22" x2="404.95" y2="61.22" stroke="#555" stroke-width="0.9"/>
<line x1="664.3" y1="61.22" x2="660.3" y2="61.22" stroke="#555" stroke-width="0.9"/>
<line x1="400.95" y1="55.22" x2="404.95" y2="55.22" stroke="#555" stroke-width="0.9"/>
<line x1="664.3" y1="55.22" x2="660.3" y2="55.22" stroke="#555" stroke-width="0.9"/>
<line x1="400.95" y1="49.22" x2="404.95" y2="49.22" stroke="#555" stroke-width="0.9"/>
<line x1="664.3" y1="49.22" x2="660.3" y2="49.22" stroke="#555" stroke-width="0.9"/>
<line x1="400.95" y1="43.21" x2="404.95" y2="43.21" stroke="#555" stroke-width="0.9"/>
<line x1="664.3" y1="43.21" x2="660.3" y2="43.21" stroke="#555" stroke-width="0.9"/>
<line x1="400.95" y1="37.21" x2="404.95" y2="37.21" stroke="#555" stroke-width="0.9"/>
<line x1="664.3" y1="37.21" x2="660.3" y2="37.21" stroke="#555" stroke-width="0.9"/>
<line x1="400.95" y1="31.21" x2="404.95" y2="31.21" stroke="#555" stroke-width="0.9"/>
<line x1="664.3" y1="31.21" x2="660.3" y2="31.21" stroke="#555" stroke-width="0.9"/>
<line x1="400.95" y1="25.21" x2="404.95" y2="25.21" stroke="#555" stroke-width="0.9"/>
<line x1="664.3" y1="25.21" x2="660.3" y2="25.21" stroke="#555" stroke-width="0.9"/>
<line x1="400.95" y1="19.2" x2="404.95" y2="19.2" stroke="#555" stroke-width="0.9"/>
<line x1="664.3" y1="19.2" x2="660.3" y2="19.2" stroke="#555" stroke-width="0.9"/>
<line x1="400.95" y1="13.2" x2="404.95" y2="13.2" stroke="#555" stroke-width="0.9"/>
<line x1="664.3" y1="13.2" x2="660.3" y2="13.2" stroke="#555" stroke-width="0.9"/>
<line x1="400.95" y1="7.2" x2="404.95" y2="7.2" stroke="#555" stroke-width="0.9"/>
<line x1="664.3" y1="7.2" x2="660.3" y2="7.2" stroke="#555" stroke-width="0.9"/>
<line x1="400.95" y1="253.3" x2="409.15" y2="253.3" stroke="#555" stroke-width="0.9"/>
<line x1="664.3" y1="253.3" x2="656.1" y2="253.3" stroke="#555" stroke-width="0.9"/>
<line x1="400.95" y1="229.29" x2="409.15" y2="229.29" stroke="#555" stroke-width="0.9"/>
<line x1="664.3" y1="229.29" x2="656.1" y2="229.29" stroke="#555" stroke-width="0.9"/>
<line x1="400.95" y1="205.28" x2="409.15" y2="205.28" stroke="#555" stroke-width="0.9"/>
<line x1="664.3" y1="205.28" x2="656.1" y2="205.28" stroke="#555" stroke-width="0.9"/>
<line x1="400.95" y1="181.27" x2="409.15" y2="181.27" stroke="#555" stroke-width="0.9"/>
<line x1="664.3" y1="181.27" x2="656.1" y2="181.27" stroke="#555" stroke-width="0.9"/>
<line x1="400.95" y1="157.26" x2="409.15" y2="157.26" stroke="#555" stroke-width="0.9"/>
<line x1="664.3" y1="157.26" x2="656.1" y2="157.26" stroke="#555" stroke-width="0.9"/>
<line x1="400.95" y1="133.25" x2="409.15" y2="133.25" stroke="#555" stroke-width="0.9"/>
<line x1="664.3" y1="133.25" x2="656.1" y2="133.25" stroke="#555" stroke-width="0.9"/>
<line x1="400.95" y1="109.24" x2="409.15" y2="109.24" stroke="#555" stroke-width="0.9"/>
<line x1="664.3" y1="109.24" x2="656.1" y2="109.24" stroke="#555" stroke-width="0.9"/>
<line x1="400.95" y1="85.23" x2="409.15" y2="85.23" stroke="#555" stroke-width="0.9"/>
<line x1="664.3" y1="85.23" x2="656.1" y2="85.23" stroke="#555" stroke-width="0.9"/>
<line x1="400.95" y1="61.22" x2="409.15" y2="61.22" stroke="#555" stroke-width="0.9"/>
<line x1="664.3" y1="61.22" x2="656.1" y2="61.22" stroke="#555" stroke-width="0.9"/>
<line x1="400.95" y1="37.21" x2="409.15" y2="37.21" stroke="#555" stroke-width="0.9"/>
<line x1="664.3" y1="37.21" x2="656.1" y2="37.21" stroke="#555" stroke-width="0.9"/>
<line x1="400.95" y1="13.2" x2="409.15" y2="13.2" stroke="#555" stroke-width="0.9"/>
<line x1="664.3" y1="13.2" x2="656.1" y2="13.2" stroke="#555" stroke-width="0.9"/>
<rect x="400.95" y="3.5" width="263.35" height="270.95" fill="none" stroke="#4a4a4a" stroke-width="1"/>
<text x="382.82" y="258" letter-spacing="-0.3">0.2</text>
<text x="382.57" y="233.99" letter-spacing="-0.3">0.4</text>
<text x="382.75" y="209.98" letter-spacing="-0.3">0.6</text>
<text x="382.74" y="185.97" letter-spacing="-0.3">0.8</text>
<text x="393.96" y="161.96">&#8199;</text>
<text x="382.82" y="137.95" letter-spacing="-0.3">&#8199;.2</text>
<text x="382.57" y="113.94" letter-spacing="-0.3">&#8199;.4</text>
<text x="382.75" y="89.93" letter-spacing="-0.3">&#8199;.6</text>
<text x="382.74" y="65.92" letter-spacing="-0.3">&#8199;.8</text>
<text x="392.23" y="41.91">2</text>
<text x="382.82" y="17.9" letter-spacing="-0.3">2.2</text>
<text x="400.95" y="286.9" text-anchor="middle">0</text>
<text x="427.28" y="286.9" text-anchor="middle">50</text>
<text x="453.62" y="286.9" text-anchor="middle">&#8199;00</text>
<text x="479.95" y="286.9" text-anchor="middle">&#8199;50</text>
<text x="506.29" y="286.9" text-anchor="middle">200</text>
<text x="532.62" y="286.9" text-anchor="middle">250</text>
<text x="558.96" y="286.9" text-anchor="middle">300</text>
<text x="585.29" y="286.9" text-anchor="middle">350</text>
<text x="611.63" y="286.9" text-anchor="middle">400</text>
<text x="637.96" y="286.9" text-anchor="middle">450</text>
<text x="664.3" y="286.9" text-anchor="middle">500</text>
<path d="M56.65 149.3H61.92V156.7H56.65ZM61.92 137.1H67.18V144.8H61.92ZM67.18 127.3H77.72V134.8H67.18ZM77.72 118H88.25V126.7H77.72ZM88.25 111.1H98.79V120.7H88.25ZM98.79 105.9H119.85V116H98.79ZM119.85 102H161.99V114.6H119.85ZM161.99 99.2H320V114.8H161.99Z" fill="#66cc99"/>
<path d="M56.65 188.3H59.28V192.9H56.65ZM59.28 180.8H61.92V185.4H59.28ZM61.92 174.6H64.55V179.2H61.92ZM64.55 170.5H67.18V175.1H64.55ZM67.18 166.4H69.82V171H67.18ZM69.82 165.3H72.45V169.9H69.82ZM72.45 162H75.08V166.6H72.45ZM75.08 161.1H77.72V165.7H75.08ZM77.72 159.4H82.98V164H77.72ZM82.98 156.7H88.25V161.3H82.98ZM88.25 156H98.79V160.6H88.25ZM98.79 152.1H114.59V156.6H98.79ZM114.59 147.5H140.92V152.5H114.59ZM140.92 148.1H167.26V155.6H140.92ZM167.26 145.6H320V155.8H167.26Z" fill="#ff33ff"/>
<path d="M55.32 187.95h5.3v5.3h-5.3ZM57.95 180.45h5.3v5.3h-5.3ZM60.58 174.25h5.3v5.3h-5.3ZM63.22 170.15h5.3v5.3h-5.3ZM65.85 166.05h5.3v5.3h-5.3ZM68.48 164.95h5.3v5.3h-5.3ZM71.12 161.65h5.3v5.3h-5.3ZM73.75 160.75h5.3v5.3h-5.3ZM77.7 159.05h5.3v5.3h-5.3ZM82.97 156.35h5.3v5.3h-5.3ZM90.87 155.55h5.3v5.3h-5.3ZM104.04 151.55h5.3v5.3h-5.3ZM125.1 147.55h5.3v5.3h-5.3ZM151.44 149.05h5.3v5.3h-5.3ZM240.98 148.25h5.3v5.3h-5.3Z" fill="#000"/>
<path d="M56.05 236.2H59.28V251.7H56.05ZM59.28 232.1H61.92V248.7H59.28ZM61.92 230.4H64.55V245.6H61.92ZM64.55 229.8H67.18V245H64.55ZM67.18 228.1H69.82V244.3H67.18ZM69.82 224.2H72.45V243.1H69.82ZM72.45 225.7H75.08V242H72.45ZM75.08 224.9H77.72V241.1H75.08ZM77.72 221.4H80.35V242.3H77.72ZM80.35 221.4H82.98V246.6H80.35ZM82.98 220.4H85.62V238.9H82.98ZM85.62 220.4H88.25V250.6H85.62ZM88.25 209.4H90.89V243.8H88.25ZM90.89 203H93.52V242.6H90.89ZM93.52 203.9H96.15V259.5H93.52ZM96.15 213.7H98.79V244.1H96.15ZM98.79 204.2H101.42V252.1H98.79ZM101.42 219H104.05V257.7H101.42ZM104.05 217.3H106.69V251H104.05ZM106.69 176.7H109.32V271.2H106.69Z" fill="#ffcc00"/>
<path d="M57.97 243.2L60.57 247.8L55.37 247.8Z" fill="#000"/>
<path d="M59.28 242.6H61.17V248.4H59.28Z" fill="#ffcc00"/>
<path d="M60.6 240.4L63.2 245L58 245Z" fill="#000"/>
<path d="M61.92 239.8H63.8V245.6H61.92Z" fill="#ffcc00"/>
<path d="M63.23 237L65.83 241.6L60.63 241.6Z" fill="#000"/>
<path d="M64.55 236.4H66.43V242.2H64.55Z" fill="#ffcc00"/>
<path d="M65.87 235.2L68.47 239.8L63.27 239.8Z" fill="#000"/>
<path d="M67.18 234.6H69.07V240.4H67.18Z" fill="#ffcc00"/>
<path d="M68.5 234L71.1 238.6L65.9 238.6Z" fill="#000"/>
<path d="M69.82 233.4H71.7V239.2H69.82Z" fill="#ffcc00"/>
<path d="M71.13 231.6L73.73 236.2L68.53 236.2Z" fill="#000"/>
<path d="M72.45 231H74.33V236.8H72.45Z" fill="#ffcc00"/>
<path d="M73.77 231.8L76.37 236.4L71.17 236.4Z" fill="#000"/>
<path d="M75.08 231.2H76.97V237H75.08Z" fill="#ffcc00"/>
<path d="M76.4 230.9L79 235.5L73.8 235.5Z" fill="#000"/>
<path d="M77.72 230.3H79.6V236.1H77.72Z" fill="#ffcc00"/>
<path d="M79.03 230L81.63 234.6L76.43 234.6Z" fill="#000"/>
<path d="M80.35 229.4H82.23V235.2H80.35Z" fill="#ffcc00"/>
<path d="M81.67 232.3L84.27 236.9L79.07 236.9Z" fill="#000"/>
<path d="M82.98 231.7H84.87V237.5H82.98Z" fill="#ffcc00"/>
<path d="M84.3 227.3L86.9 231.9L81.7 231.9Z" fill="#000"/>
<path d="M85.62 226.7H87.5V232.5H85.62Z" fill="#ffcc00"/>
<path d="M86.94 233.8L89.54 238.4L84.34 238.4Z" fill="#000"/>
<path d="M88.25 233.2H90.14V239H88.25Z" fill="#ffcc00"/>
<path d="M89.57 225.5L92.17 230.1L86.97 230.1Z" fill="#000"/>
<path d="M90.89 224.9H92.77V230.7H90.89Z" fill="#ffcc00"/>
<path d="M92.2 219.8L94.8 224.4L89.6 224.4Z" fill="#000"/>
<path d="M93.52 219.2H95.4V225H93.52Z" fill="#ffcc00"/>
<path d="M94.84 230.5L97.44 235.1L92.24 235.1Z" fill="#000"/>
<path d="M96.15 229.9H98.04V235.7H96.15Z" fill="#ffcc00"/>
<path d="M97.47 227.8L100.07 232.4L94.87 232.4Z" fill="#000"/>
<path d="M98.79 227.2H100.67V233H98.79Z" fill="#ffcc00"/>
<path d="M100.1 226.4L102.7 231L97.5 231Z" fill="#000"/>
<path d="M101.42 225.8H103.3V231.6H101.42Z" fill="#ffcc00"/>
<path d="M102.74 237L105.34 241.6L100.14 241.6Z" fill="#000"/>
<path d="M104.05 236.4H105.94V242.2H104.05Z" fill="#ffcc00"/>
<path d="M105.37 231.9L107.97 236.5L102.77 236.5Z" fill="#000"/>
<path d="M106.69 231.3H108.57V237.1H106.69Z" fill="#ffcc00"/>
<path d="M108 221.9L110.6 226.5L105.4 226.5Z" fill="#000"/>
<line x1="56.65" y1="153" x2="61.92" y2="153" stroke="#000" stroke-width="1"/>
<circle cx="59.28" cy="153" r="2.85" fill="#000"/>
<line x1="61.92" y1="140.8" x2="67.18" y2="140.8" stroke="#000" stroke-width="1"/>
<circle cx="64.55" cy="140.8" r="2.85" fill="#000"/>
<line x1="67.18" y1="131.1" x2="77.72" y2="131.1" stroke="#000" stroke-width="1"/>
<circle cx="72.45" cy="131.1" r="2.85" fill="#000"/>
<line x1="77.72" y1="122.6" x2="88.25" y2="122.6" stroke="#000" stroke-width="1"/>
<circle cx="82.98" cy="122.6" r="2.85" fill="#000"/>
<line x1="88.25" y1="115.7" x2="98.79" y2="115.7" stroke="#000" stroke-width="1"/>
<circle cx="93.52" cy="115.7" r="2.85" fill="#000"/>
<line x1="98.79" y1="111" x2="119.85" y2="111" stroke="#000" stroke-width="1"/>
<circle cx="109.32" cy="111" r="2.85" fill="#000"/>
<line x1="119.85" y1="108.5" x2="161.99" y2="108.5" stroke="#000" stroke-width="1"/>
<circle cx="140.92" cy="108.5" r="2.85" fill="#000"/>
<line x1="161.99" y1="106.6" x2="320" y2="106.6" stroke="#000" stroke-width="1"/>
<circle cx="240.99" cy="106.6" r="2.85" fill="#000"/>
<path d="M400.95 177.5H406.22V183H400.95ZM406.22 165H411.48V170.9H406.22ZM411.48 151.2H422.02V158.5H411.48ZM422.02 138.1H432.55V144.5H422.02ZM432.55 131.1H443.09V140.7H432.55ZM443.09 120.4H464.15V128.2H443.09ZM464.15 110.7H506.29V118H464.15ZM506.29 95.5H664.3V106.8H506.29Z" fill="#66cc99"/>
<path d="M400.95 212.4H403.58V217H400.95ZM403.58 205.1H406.22V209.7H403.58ZM406.22 199.1H408.85V203.7H406.22ZM408.85 194.6H411.48V199.2H408.85ZM411.48 189.5H414.12V194.1H411.48ZM414.12 186.3H416.75V190.9H414.12ZM416.75 182.4H419.38V187H416.75ZM419.38 180.8H422.02V185.4H419.38ZM422.02 176.2H427.28V180.8H422.02ZM427.28 172.5H432.55V177.1H427.28ZM432.55 168.3H443.09V173.5H432.55ZM443.09 161.2H458.89V166.7H443.09ZM458.89 152.9H485.22V159.7H458.89ZM485.22 142.2H511.56V155.7H485.22ZM511.56 134H664.3V157.5H511.56Z" fill="#ff33ff"/>
<path d="M399.62 212.05h5.3v5.3h-5.3ZM402.25 204.75h5.3v5.3h-5.3ZM404.88 198.75h5.3v5.3h-5.3ZM407.52 194.25h5.3v5.3h-5.3ZM410.15 189.15h5.3v5.3h-5.3ZM412.78 185.95h5.3v5.3h-5.3ZM415.42 182.05h5.3v5.3h-5.3ZM418.05 180.45h5.3v5.3h-5.3ZM422 175.85h5.3v5.3h-5.3ZM427.27 172.15h5.3v5.3h-5.3ZM435.17 168.25h5.3v5.3h-5.3ZM448.34 161.35h5.3v5.3h-5.3ZM469.4 153.65h5.3v5.3h-5.3ZM495.74 146.35h5.3v5.3h-5.3ZM585.28 143.15h5.3v5.3h-5.3Z" fill="#000"/>
<path d="M400.35 250.1H403.58V259.6H400.35ZM403.58 247.4H406.22V258.1H403.58ZM406.22 244H408.85V254.5H406.22ZM408.85 243.5H411.48V253.2H408.85ZM411.48 240.3H414.12V253H411.48ZM414.12 237.3H416.75V251H414.12ZM416.75 236.5H419.38V248H416.75ZM419.38 231.3H422.02V248H419.38ZM422.02 226.1H424.65V252.3H422.02ZM424.65 229.1H427.28V258.7H424.65ZM427.28 231.7H429.92V251H427.28ZM429.92 213.2H432.55V269H429.92ZM432.55 222H435.19V259.6H432.55ZM435.19 218.8H437.82V249.7H435.19ZM437.82 209.2H440.45V251.9H437.82ZM440.45 216.4H443.09V249H440.45ZM443.09 155.6H445.72V257H443.09ZM445.72 235.3H448.35V266H445.72ZM448.35 214.1H450.99V247H448.35ZM450.99 134.8H453.62V274.5H450.99Z" fill="#ffcc00"/>
<path d="M402.27 253.4L404.87 258L399.67 258Z" fill="#000"/>
<path d="M403.58 252.8H405.47V258.1H403.58Z" fill="#ffcc00"/>
<path d="M404.9 251.2L407.5 255.8L402.3 255.8Z" fill="#000"/>
<path d="M406.22 250.6H408.1V254.5H406.22Z" fill="#ffcc00"/>
<path d="M407.53 248.6L410.13 253.2L404.93 253.2Z" fill="#000"/>
<path d="M408.85 248H410.73V253.2H408.85Z" fill="#ffcc00"/>
<path d="M410.17 246.8L412.77 251.4L407.57 251.4Z" fill="#000"/>
<path d="M411.48 246.2H413.37V252H411.48Z" fill="#ffcc00"/>
<path d="M412.8 244.8L415.4 249.4L410.2 249.4Z" fill="#000"/>
<path d="M414.12 244.2H416V250H414.12Z" fill="#ffcc00"/>
<path d="M415.43 242.2L418.03 246.8L412.83 246.8Z" fill="#000"/>
<path d="M416.75 241.6H418.63V247.4H416.75Z" fill="#ffcc00"/>
<path d="M418.07 240.4L420.67 245L415.47 245Z" fill="#000"/>
<path d="M419.38 239.8H421.27V245.6H419.38Z" fill="#ffcc00"/>
<path d="M420.7 238.4L423.3 243L418.1 243Z" fill="#000"/>
<path d="M422.02 237.8H423.9V243.6H422.02Z" fill="#ffcc00"/>
<path d="M423.33 237.2L425.93 241.8L420.73 241.8Z" fill="#000"/>
<path d="M424.65 236.6H426.53V242.4H424.65Z" fill="#ffcc00"/>
<path d="M425.97 241.6L428.57 246.2L423.37 246.2Z" fill="#000"/>
<path d="M427.28 241H429.17V246.8H427.28Z" fill="#ffcc00"/>
<path d="M428.6 239.1L431.2 243.7L426 243.7Z" fill="#000"/>
<path d="M429.92 238.5H431.8V244.3H429.92Z" fill="#ffcc00"/>
<path d="M431.24 239.5L433.84 244.1L428.64 244.1Z" fill="#000"/>
<path d="M432.55 238.9H434.44V244.7H432.55Z" fill="#ffcc00"/>
<path d="M433.87 238.7L436.47 243.3L431.27 243.3Z" fill="#000"/>
<path d="M435.19 238.1H437.07V243.9H435.19Z" fill="#ffcc00"/>
<path d="M436.5 231.6L439.1 236.2L433.9 236.2Z" fill="#000"/>
<path d="M437.82 231H439.7V236.8H437.82Z" fill="#ffcc00"/>
<path d="M439.14 228.2L441.74 232.8L436.54 232.8Z" fill="#000"/>
<path d="M440.45 227.6H442.34V233.4H440.45Z" fill="#ffcc00"/>
<path d="M441.77 230.9L444.37 235.5L439.17 235.5Z" fill="#000"/>
<path d="M443.09 230.3H444.97V236.1H443.09Z" fill="#ffcc00"/>
<path d="M444.4 203.9L447 208.5L441.8 208.5Z" fill="#000"/>
<path d="M447.04 249.2L449.64 253.8L444.44 253.8Z" fill="#000"/>
<path d="M449.67 230.3L452.27 234.9L447.07 234.9Z" fill="#000"/>
<path d="M450.99 229.7H452.87V235.5H450.99Z" fill="#ffcc00"/>
<path d="M452.3 208.4L454.9 213L449.7 213Z" fill="#000"/>
<line x1="400.95" y1="180.2" x2="406.22" y2="180.2" stroke="#000" stroke-width="1"/>
<circle cx="403.58" cy="180.2" r="2.85" fill="#000"/>
<line x1="406.22" y1="167.9" x2="411.48" y2="167.9" stroke="#000" stroke-width="1"/>
<circle cx="408.85" cy="167.9" r="2.85" fill="#000"/>
<line x1="411.48" y1="154.7" x2="422.02" y2="154.7" stroke="#000" stroke-width="1"/>
<circle cx="416.75" cy="154.7" r="2.85" fill="#000"/>
<line x1="422.02" y1="141.1" x2="432.55" y2="141.1" stroke="#000" stroke-width="1"/>
<circle cx="427.28" cy="141.1" r="2.85" fill="#000"/>
<line x1="432.55" y1="136" x2="443.09" y2="136" stroke="#000" stroke-width="1"/>
<circle cx="437.82" cy="136" r="2.85" fill="#000"/>
<line x1="443.09" y1="124.4" x2="464.15" y2="124.4" stroke="#000" stroke-width="1"/>
<circle cx="453.62" cy="124.4" r="2.85" fill="#000"/>
<line x1="464.15" y1="114.4" x2="506.29" y2="114.4" stroke="#000" stroke-width="1"/>
<circle cx="485.22" cy="114.4" r="2.85" fill="#000"/>
<line x1="506.29" y1="101.4" x2="664.3" y2="101.4" stroke="#000" stroke-width="1"/>
<circle cx="585.29" cy="101.4" r="2.85" fill="#000"/>
<line x1="585.29" y1="97.4" x2="585.29" y2="105.4" stroke="#000" stroke-width="1"/>
<text x="86.9" y="33.9" font-weight="bold" font-style="italic" letter-spacing="0.25" style="font-size:12px">ATLAS</text>
<path d="M87.9 46.9L89.4 53.4L91.1 44.1" fill="none" stroke="#111" stroke-width="0.95"/>
<line x1="91" y1="44.0" x2="97.6" y2="44.0" stroke="#666" stroke-width="0.8"/>
<text y="53.8"><tspan x="92">s=&#8199;3</tspan><tspan x="120.9" letter-spacing="0.8">TeV</tspan><tspan x="143.6">,</tspan><tspan x="149.7">3.2</tspan><tspan x="169.5" letter-spacing="1.0">fb</tspan></text>
<text x="180.3" y="47.7" style="font-size:7.2px">-&#8199;</text>
<text x="86" y="72.9">trans-min</text>
<rect x="142.6" y="165.5" width="30.1" height="14.1" fill="#66cc99"/>
<line x1="157.6" y1="186" x2="157.6" y2="197.9" stroke="#000" stroke-width="1"/>
<circle cx="157.6" cy="191.7" r="2.7" fill="#000"/>
<rect x="143.1" y="204.4" width="29.2" height="13" fill="#ff33ff" stroke="#5a3cf0" stroke-width="1"/>
<rect x="154.9" y="208.2" width="5.4" height="5.4" fill="#000"/>
<rect x="143.1" y="223.6" width="29.2" height="13" fill="#ffcc00" stroke="#66dd55" stroke-width="1"/>
<path d="M157.6 227.6L160.4 232.9L154.8 232.9Z" fill="#000"/>
<text x="178" y="177">syst.</text>
<circle cx="210.7" cy="172.45" r="3.9" fill="none" stroke="#222" stroke-width="0.75"/>
<path d="M206.8 172.45H214.6M210.7 168.55V176.35" stroke="#222" stroke-width="0.75"/>
<text x="218.3" y="177">stat. error</text>
<text x="178" y="195.7">Data 20&#8199;5</text>
<text x="178" y="214.7">7</text>
<text x="188.3" y="214.7" letter-spacing="0.65">TeV</text>
<text x="213.2" y="214.7">(4.6</text>
<text x="237.4" y="214.7">fb</text>
<text x="247.1" y="208.6" style="font-size:7.2px">-&#8199;</text>
<text x="252.7" y="214.7">)</text>
<text x="178.3" y="234">&#8199;.96</text>
<text x="204.5" y="234" letter-spacing="0.3">TeV</text>
<text x="224.6" y="234">,</text>
<text x="228.6" y="234" letter-spacing="0.2">CDF</text>
<text x="254.2" y="234">(</text>
<text x="258.5" y="234">p</text>
<text x="265" y="234">p</text>
<line x1="265.3" y1="225.8" x2="271.9" y2="225.8" stroke="#111" stroke-width="0.85"/>
<text x="272" y="234">,2.7</text>
<text x="295.4" y="234">fb</text>
<text x="305.8" y="227.9" style="font-size:7.2px">-&#8199;</text>
<text x="311.3" y="234">)</text>
<text x="277.3" y="306.2">p</text>
<text x="284" y="312.3" style="font-size:8.4px">T</text>
<text x="284.3" y="301.7" style="font-size:8.4px">Z</text>
<text x="289.4" y="306.2">[GeV]</text>
<text x="431.4" y="33.9" font-weight="bold" font-style="italic" letter-spacing="0.25" style="font-size:12px">ATLAS</text>
<path d="M432.4 46.9L433.9 53.4L435.6 44.1" fill="none" stroke="#111" stroke-width="0.95"/>
<line x1="435.5" y1="44.0" x2="442.1" y2="44.0" stroke="#666" stroke-width="0.8"/>
<text y="53.8"><tspan x="436.5">s=&#8199;3</tspan><tspan x="465.4" letter-spacing="0.8">TeV</tspan><tspan x="488.1">,</tspan><tspan x="494.2">3.2</tspan><tspan x="514" letter-spacing="1.0">fb</tspan></text>
<text x="524.8" y="47.7" style="font-size:7.2px">-&#8199;</text>
<text x="430.5" y="72.9">trans-min</text>
<rect x="487.1" y="165.5" width="30.1" height="14.1" fill="#66cc99"/>
<line x1="502.1" y1="186" x2="502.1" y2="197.9" stroke="#000" stroke-width="1"/>
<circle cx="502.1" cy="191.7" r="2.7" fill="#000"/>
<rect x="487.6" y="204.4" width="29.2" height="13" fill="#ff33ff" stroke="#5a3cf0" stroke-width="1"/>
<rect x="499.4" y="208.2" width="5.4" height="5.4" fill="#000"/>
<rect x="487.6" y="223.6" width="29.2" height="13" fill="#ffcc00" stroke="#66dd55" stroke-width="1"/>
<path d="M502.1 227.6L504.9 232.9L499.3 232.9Z" fill="#000"/>
<text x="522.5" y="177">syst.</text>
<circle cx="555.2" cy="172.45" r="3.9" fill="none" stroke="#222" stroke-width="0.75"/>
<path d="M551.3 172.45H559.1M555.2 168.55V176.35" stroke="#222" stroke-width="0.75"/>
<text x="562.8" y="177">stat. error</text>
<text x="522.5" y="195.7">Data 20&#8199;5</text>
<text x="522.5" y="214.7">7</text>
<text x="532.8" y="214.7" letter-spacing="0.65">TeV</text>
<text x="557.7" y="214.7">(4.6</text>
<text x="581.9" y="214.7">fb</text>
<text x="591.6" y="208.6" style="font-size:7.2px">-&#8199;</text>
<text x="597.2" y="214.7">)</text>
<text x="522.8" y="234">&#8199;.96</text>
<text x="549" y="234" letter-spacing="0.3">TeV</text>
<text x="569.1" y="234">,</text>
<text x="573.1" y="234" letter-spacing="0.2">CDF</text>
<text x="598.7" y="234">(</text>
<text x="603" y="234">p</text>
<text x="609.5" y="234">p</text>
<line x1="609.8" y1="225.8" x2="616.4" y2="225.8" stroke="#111" stroke-width="0.85"/>
<text x="616.5" y="234">,2.7</text>
<text x="639.9" y="234">fb</text>
<text x="650.3" y="227.9" style="font-size:7.2px">-&#8199;</text>
<text x="655.8" y="234">)</text>
<text x="621.8" y="306.2">p</text>
<text x="628.5" y="312.3" style="font-size:8.4px">T</text>
<text x="628.8" y="301.7" style="font-size:8.4px">Z</text>
<text x="633.9" y="306.2">[GeV]</text>
<g fill="none" stroke="#000" stroke-width="0.95"><ellipse cx="14.8" cy="13.3" rx="2.75" ry="2.3"/><ellipse cx="358.3" cy="47.1" rx="2.7" ry="2.3"/></g><path d="M10.1 13.5H20.0M353.3 47.5H363.4" stroke="#555" stroke-width="0.9"/>
<g transform="translate(18.0,0) rotate(-90)">
<text x="-58.95" y="0" text-anchor="middle">&lt;</text>
<text x="-51.05" y="0" text-anchor="middle">N</text>
<text x="-43.3" y="4.6" text-anchor="middle" style="font-size:8.6px">ch</text>
<text x="-38.45" y="0" text-anchor="middle">/</text>
<text x="-33.25" y="0" text-anchor="middle">&#948;</text>
<text x="-26.45" y="0" text-anchor="middle">&#951;</text>
<text x="-19.35" y="0" text-anchor="middle">&#948;</text>
<text x="-6.65" y="0" text-anchor="middle">&gt;</text>
</g>
<g transform="translate(361.8,0) rotate(-90)">
<text x="-98.75" y="0" text-anchor="middle">&lt;</text>
<text x="-92.3" y="0" text-anchor="middle">&#931;</text>
<text x="-81.6" y="0" text-anchor="middle">p</text>
<text x="-75.85" y="5.9" text-anchor="middle" style="font-size:7.9px">T</text>
<text x="-71.75" y="0" text-anchor="middle">/</text>
<text x="-65.85" y="0" text-anchor="middle">&#948;</text>
<text x="-59.5" y="0" text-anchor="middle">&#951;</text>
<text x="-53.25" y="0" text-anchor="middle">&#948;</text>
<text x="-40.45" y="0" text-anchor="middle">&gt;</text>
<text x="-31.8" y="0" text-anchor="middle">[</text>
<text x="-25.7" y="0" text-anchor="middle">G</text>
<text x="-17.7" y="0" text-anchor="middle">e</text>
<text x="-10.15" y="0" text-anchor="middle">V</text>
<text x="-5.15" y="0" text-anchor="middle">]</text>
</g>
<path d="M52.82 119.32L52.82 112.17L50.54 113.52L50.54 112.52L52.94 111.06L54 111.06L54 119.32ZM41.68 86.66L41.68 79.51L39.4 80.86L39.4 79.86L41.8 78.4L42.86 78.4L42.86 86.66ZM41.43 54L41.43 46.85L39.15 48.2L39.15 47.2L41.55 45.74L42.61 45.74L42.61 54ZM41.61 21.34L41.61 14.19L39.33 15.54L39.33 14.54L41.73 13.08L42.79 13.08L42.79 21.34ZM102.47 286.9L102.47 279.75L100.18 281.1L100.18 280.1L102.59 278.64L103.64 278.64L103.64 286.9ZM128.81 286.9L128.81 279.75L126.52 281.1L126.52 280.1L128.93 278.64L129.98 278.64L129.98 286.9ZM397.12 161.96L397.12 154.81L394.84 156.16L394.84 155.16L397.24 153.7L398.3 153.7L398.3 161.96ZM385.98 137.95L385.98 130.8L383.7 132.15L383.7 131.15L386.1 129.69L387.16 129.69L387.16 137.95ZM385.73 113.94L385.73 106.79L383.45 108.14L383.45 107.14L385.85 105.68L386.91 105.68L386.91 113.94ZM385.91 89.93L385.91 82.78L383.63 84.13L383.63 83.13L386.03 81.67L387.09 81.67L387.09 89.93ZM385.9 65.92L385.9 58.77L383.62 60.12L383.62 59.12L386.02 57.66L387.08 57.66L387.08 65.92ZM446.77 286.9L446.77 279.75L444.48 281.1L444.48 280.1L446.89 278.64L447.94 278.64L447.94 286.9ZM473.1 286.9L473.1 279.75L470.81 281.1L470.81 280.1L473.22 278.64L474.27 278.64L474.27 286.9ZM108.16 53.8L108.16 46.65L105.88 48L105.88 47L108.28 45.54L109.34 45.54L109.34 53.8ZM184.59 47.7L184.59 43.41L183.22 44.22L183.22 43.62L184.66 42.75L185.29 42.75L185.29 47.7ZM223.18 195.7L223.18 188.55L220.89 189.9L220.89 188.9L223.3 187.44L224.35 187.44L224.35 195.7ZM251.39 208.6L251.39 204.31L250.02 205.12L250.02 204.52L251.46 203.65L252.09 203.65L252.09 208.6ZM181.46 234L181.46 226.85L179.18 228.2L179.18 227.2L181.58 225.74L182.64 225.74L182.64 234ZM310.09 227.9L310.09 223.61L308.72 224.42L308.72 223.82L310.16 222.95L310.79 222.95L310.79 227.9ZM452.66 53.8L452.66 46.65L450.38 48L450.38 47L452.78 45.54L453.84 45.54L453.84 53.8ZM529.09 47.7L529.09 43.41L527.72 44.22L527.72 43.62L529.16 42.75L529.79 42.75L529.79 47.7ZM567.68 195.7L567.68 188.55L565.39 189.9L565.39 188.9L567.8 187.44L568.85 187.44L568.85 195.7ZM595.89 208.6L595.89 204.31L594.52 205.12L594.52 204.52L595.96 203.65L596.59 203.65L596.59 208.6ZM525.96 234L525.96 226.85L523.68 228.2L523.68 227.2L526.08 225.74L527.14 225.74L527.14 234ZM654.59 227.9L654.59 223.61L653.22 224.42L653.22 223.82L654.66 222.95L655.29 222.95L655.29 227.9Z" fill="#000"/>
</svg>
</body></html>
